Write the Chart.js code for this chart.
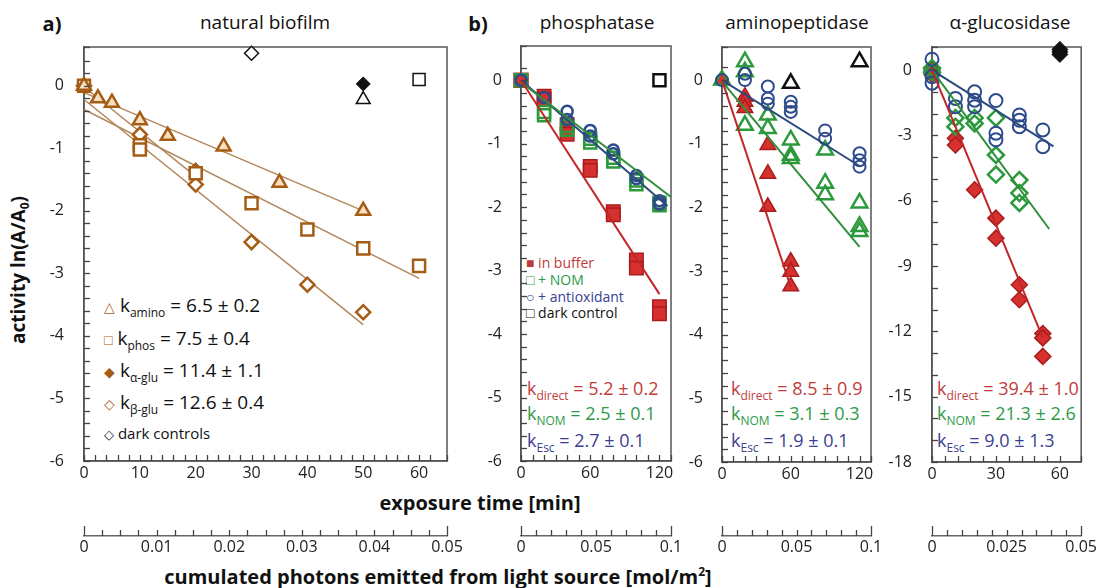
<!DOCTYPE html>
<html lang="en">
<head>
<meta charset="UTF-8">
<title>Photoinactivation of enzymes</title>
<script src="https://cdn.jsdelivr.net/npm/chart.js"></script>
<style>
  body { margin:0; width:1099px; height:588px; background:#fff; position:relative; overflow:hidden;
         font-family:"Open Sans", sans-serif; color:#111; }
  canvas { position:absolute; }
  .c { position:absolute; white-space:nowrap; transform:translate(-50%,-50%); line-height:1; }
  .l { position:absolute; white-space:nowrap; transform:translateY(-50%); line-height:1; }
  .b { font-weight:bold; }
  .k { font-size:18px; }
  .k sub { font-size:12px; vertical-align:-5px; line-height:0; }
  .lg { font-size:14px; }
  .red { color:#bf3b3b; } .grn { color:#2e9a48; } .blu { color:#3a3f8f; }
  .br { color:#a55d16; font-size:14px; }
</style>
</head>
<body>
<div class="c b" style="left:52px;top:24px;font-size:20px">a)</div>
<div class="c b" style="left:478px;top:24px;font-size:20px">b)</div>
<div class="c" style="left:265px;top:22px;font-size:19px">natural biofilm</div>
<div class="c" style="left:597px;top:22px;font-size:19px">phosphatase</div>
<div class="c" style="left:797px;top:22px;font-size:19px">aminopeptidase</div>
<div class="c" style="left:1010px;top:22px;font-size:19px">α-glucosidase</div>
<div class="c b" style="left:20px;top:270px;font-size:19px;transform:translate(-50%,-50%) rotate(-90deg)">activity ln(A/A<sub style="font-size:12px">0</sub>)</div>
<div class="c b" style="left:480px;top:503px;font-size:20px">exposure time [min]</div>
<div class="c b" style="left:438px;top:577px;font-size:20px">cumulated photons emitted from light source [mol/m<sup style="font-size:12px;line-height:0">2</sup>]</div>

<!-- legend a -->
<div class="l k" style="left:104px;top:305px;font-size:19px"><span class="br">△</span> k<sub>amino</sub> = 6.5 ± 0.2</div>
<div class="l k" style="left:104px;top:338px;font-size:19px"><span class="br">□</span> k<sub>phos</sub> = 7.5 ± 0.4</div>
<div class="l k" style="left:104px;top:370px;font-size:19px"><span class="br">◆</span> k<sub>α-glu</sub> = 11.4 ± 1.1</div>
<div class="l k" style="left:104px;top:402px;font-size:19px"><span class="br">◇</span> k<sub>β-glu</sub> = 12.6 ± 0.4</div>
<div class="l" style="left:104px;top:433px;font-size:15px"><span style="font-size:13px">◇</span> dark controls</div>

<!-- legend b -->
<div class="l lg red" style="left:526px;top:263px"><span style="font-size:14px">■</span> in buffer</div>
<div class="l lg grn" style="left:526px;top:280px"><span style="font-size:14px">□</span> + NOM</div>
<div class="l lg blu" style="left:526px;top:297px"><span style="font-size:14px">○</span> + antioxidant</div>
<div class="l lg" style="left:526px;top:313px"><span style="font-size:14px">□</span> dark control</div>

<div class="l k red" style="left:527px;top:388px">k<sub>direct</sub> = 5.2 ± 0.2</div>
<div class="l k grn" style="left:527px;top:413px">k<sub>NOM</sub> = 2.5 ± 0.1</div>
<div class="l k blu" style="left:527px;top:440px">k<sub>Esc</sub> = 2.7 ± 0.1</div>
<div class="l k red" style="left:731px;top:388px">k<sub>direct</sub> = 8.5 ± 0.9</div>
<div class="l k grn" style="left:731px;top:413px">k<sub>NOM</sub> = 3.1 ± 0.3</div>
<div class="l k blu" style="left:731px;top:440px">k<sub>Esc</sub> = 1.9 ± 0.1</div>
<div class="l k red" style="left:937px;top:388px">k<sub>direct</sub> = 39.4 ± 1.0</div>
<div class="l k grn" style="left:937px;top:413px">k<sub>NOM</sub> = 21.3 ± 2.6</div>
<div class="l k blu" style="left:937px;top:440px">k<sub>Esc</sub> = 9.0 ± 1.3</div>

<script>
// a) natural biofilm, exposure time [min] vs ln(A/A0)
const bioAminoT = [0, 2.5, 5, 10, 15, 25, 35, 50];
const bioAminoLn = [0, -0.2, -0.27, -0.55, -0.8, -0.97, -1.55, -2.0];
const bioPhosT = [0, 10, 10, 20, 30, 40, 50, 60];
const bioPhosLn = [0, -0.95, -1.02, -1.4, -1.88, -2.3, -2.6, -2.88];
const bioAgluT = [0, 10, 10, 20, 20];
const bioAgluLn = [0, -0.8, -0.97, -1.34, -1.45];
const bioBgluT = [0, 10, 20, 30, 40, 50];
const bioBgluLn = [0, -0.78, -1.58, -2.5, -3.18, -3.62];
const bioDarkAmino = [50, -0.22];
const bioDarkPhos = [60, 0.1];
const bioDarkAglu = [50, 0.03];
const bioDarkBglu = [30, 0.52];
const bioFitAminoT = [0, 50], bioFitAminoLn = [-0.11, -2.0];
const bioFitPhosT = [0, 60], bioFitPhosLn = [-0.38, -3.08];
const bioFitAgluT = [0, 20], bioFitAgluLn = [-0.02, -1.45];
const bioFitBgluT = [0, 50], bioFitBgluLn = [-0.22, -3.82];

// b) phosphatase
const phosBufT = [0, 0, 20, 20, 40, 40, 60, 60, 80, 80, 100, 100, 120, 120];
const phosBufLn = [0, 0, -0.25, -0.3, -0.7, -0.85, -1.36, -1.42, -2.07, -2.12, -2.83, -2.96, -3.57, -3.68];
const phosNomT = [0, 20, 20, 40, 40, 60, 60, 80, 80, 100, 100, 120, 120];
const phosNomLn = [0, -0.5, -0.55, -0.72, -0.78, -0.92, -0.98, -1.22, -1.28, -1.58, -1.64, -1.93, -1.97];
const phosAoxT = [0, 20, 40, 40, 60, 60, 80, 80, 100, 100, 120, 120];
const phosAoxLn = [0, -0.27, -0.49, -0.62, -0.79, -0.88, -1.1, -1.16, -1.5, -1.55, -1.9, -1.95];
const phosDark = [120, 0];
const phosFitBufT = [0, 120], phosFitBufLn = [0, -3.37];
const phosFitNomT = [0, 130], phosFitNomLn = [-0.03, -1.84];
const phosFitAoxT = [0, 127], phosFitAoxLn = [0, -1.98];

// b) aminopeptidase
const amiBufT = [0, 20, 20, 20, 40, 40, 40, 60, 60, 60];
const amiBufLn = [0, -0.26, -0.34, -0.44, -1.02, -1.47, -1.99, -2.85, -3.01, -3.24];
const amiNomT = [0, 20, 20, 20, 40, 40, 60, 60, 60, 90, 90, 90, 120, 120, 120];
const amiNomLn = [0, 0.29, 0.13, -0.71, -0.55, -0.76, -0.94, -1.18, -1.23, -1.1, -1.62, -1.8, -1.93, -2.3, -2.38];
const amiAoxT = [0, 20, 20, 40, 40, 40, 60, 60, 60, 90, 90, 120, 120, 120];
const amiAoxLn = [0, 0.1, 0, -0.1, -0.29, -0.37, -0.34, -0.42, -0.5, -0.79, -0.92, -1.15, -1.26, -1.36];
const amiDarkT = [60, 120], amiDarkLn = [-0.05, 0.29];
const amiFitBufT = [0, 60], amiFitBufLn = [0, -3.25];
const amiFitNomT = [0, 120], amiFitNomLn = [-0.02, -2.62];
const amiFitAoxT = [0, 120], amiFitAoxLn = [0, -1.35];

// b) alpha-glucosidase
const gluBufT = [0, 0, 11, 11, 20, 30, 30, 41, 41, 52, 52, 52];
const gluBufLn = [0, -0.2, -3.13, -3.44, -5.5, -6.8, -7.72, -9.86, -10.55, -12.1, -12.3, -13.15];
const gluNomT = [0, 0, 11, 11, 20, 20, 30, 30, 30, 41, 41, 41];
const gluNomLn = [0.1, -0.1, -2.2, -2.6, -2.2, -2.45, -2.2, -3.9, -4.8, -5.05, -5.65, -6.1];
const gluAoxT = [0, 0, 0, 11, 11, 20, 20, 20, 30, 30, 30, 41, 41, 41, 52, 52];
const gluAoxLn = [0.5, -0.3, -0.6, -1.3, -1.68, -1.0, -1.38, -1.68, -1.4, -2.9, -3.2, -2.06, -2.3, -2.6, -2.75, -3.52];
const gluDarkT = [60, 60, 60], gluDarkLn = [0.72, 0.84, 0.95];
const gluFitBufT = [0, 52], gluFitBufLn = [0, -12.3];
const gluFitNomT = [0, 55], gluFitNomLn = [0, -7.3];
const gluFitAoxT = [0, 57], gluFitAoxLn = [0, -3.5];

const FONT = '"Open Sans", sans-serif';
const TICK_SIZE = 16;
const BROWN = '#a55d16', TAN = '#f6dfc2', BROWNLINE = '#b3875a';
const RED = '#d6302f', REDD = '#a91c1c', GRN = '#2c9a3c', BLU = '#2d4a8c';
const AXIS_Y2 = 536;   // secondary (photon) axis line

const pts = (xs, ys) => xs.map((x, i) => ({ x: x, y: ys[i] }));
const isMajor = (v, step) => Math.abs(v / step - Math.round(v / step)) < 1e-6;

function marks(xs, ys, style, r, bg, bc, bw) {
  return { data: pts(xs, ys), showLine: false, pointStyle: style, pointRadius: r,
           backgroundColor: bg, borderColor: bc, pointBorderWidth: bw, clip: false };
}
function fit(xs, ys, color, w) {
  return { data: pts(xs, ys), showLine: true, pointRadius: 0, borderColor: color,
           borderWidth: w, clip: false };
}

// box round the plot area
const frame = {
  id: 'frame',
  beforeDatasetsDraw(c) {
    const a = c.chartArea, ctx = c.ctx;
    ctx.save();
    ctx.strokeStyle = '#555';
    ctx.lineWidth = 1.5;
    ctx.strokeRect(a.left, a.top, a.right - a.left, a.bottom - a.top);
    ctx.restore();
  }
};

// tick marks pointing inwards (and upwards on the photon axis)
const innerTicks = {
  id: 'innerTicks',
  afterDraw(c) {
    const ctx = c.ctx;
    ctx.save();
    ctx.strokeStyle = '#444';
    ctx.lineWidth = 1.3;
    ['x', 'x2', 'y'].forEach(id => {
      const s = c.scales[id];
      const n = s.ticks.length;
      s.ticks.forEach((t, i) => {
        const p = Math.round(s.getPixelForValue(t.value)) + 0.5;
        ctx.beginPath();
        if (id === 'y') {
          ctx.moveTo(s.right, p); ctx.lineTo(s.right + 6, p);
        } else {
          let len = 6;
          if (id === 'x2') len = (i === 0 || i === n - 1) ? 10 : 6;
          ctx.moveTo(p, s.top); ctx.lineTo(p, s.top - len);
        }
        ctx.stroke();
      });
    });
    ctx.restore();
  }
};

function panel(box, xr, yr, x2r, datasets, padR) {
  // the y axis keeps half a label line plus its tick padding free above the top tick,
  // so the canvas starts that far above the plot box
  const padT = Math.ceil(TICK_SIZE * 0.6 + yr.pad) + 2;
  const yW = 50;
  const cv = document.createElement('canvas');
  cv.width = yW + (box.right - box.left) + padR;
  cv.height = (box.bottom - box.top + padT) + (AXIS_Y2 - box.bottom) + 30;
  cv.style.left = (box.left - yW) + 'px';
  cv.style.top = (box.top - padT) + 'px';
  document.body.appendChild(cv);
  const tickFont = { family: FONT, size: TICK_SIZE };
  const noGrid = { drawOnChartArea: false, drawTicks: false };
  new Chart(cv, {
    type: 'scatter',
    data: { datasets: datasets },
    options: {
      responsive: false,
      animation: false,
      layout: { padding: { left: 0, top: padT, right: padR, bottom: 0 } },
      plugins: { legend: { display: false }, tooltip: { enabled: false } },
      scales: {
        x: {
          type: 'linear', position: 'bottom', weight: 0, min: 0, max: xr.max,
          afterFit: s => { s.height = AXIS_Y2 - box.bottom; },
          ticks: { stepSize: xr.step, autoSkip: false, maxRotation: 0, padding: 3, color: '#222', font: tickFont,
                   callback: v => isMajor(v, xr.major) ? String(Math.round(v)) : '' },
          grid: noGrid,
          border: { color: '#555', width: 1.5 }
        },
        x2: {
          type: 'linear', position: 'bottom', weight: 1, min: 0, max: x2r.max,
          afterFit: s => { s.height = 30; },
          ticks: { stepSize: x2r.step, autoSkip: false, maxRotation: 0, padding: 2, color: '#222', font: tickFont,
                   callback: v => isMajor(v, x2r.major) ? String(+v.toFixed(4)) : '' },
          grid: noGrid,
          border: { color: '#666', width: 1.5 }
        },
        y: {
          type: 'linear', min: yr.min, max: yr.max,
          afterFit: s => { s.width = yW; },
          ticks: { stepSize: yr.step, autoSkip: false, padding: yr.pad, color: '#222', font: tickFont,
                   callback: v => isMajor(v, yr.major) ? String(Math.round(v)) : '' },
          grid: noGrid,
          border: { color: '#555', width: 1.5 }
        }
      }
    },
    plugins: [frame, innerTicks]
  });
}

// a) natural biofilm
panel({ left: 84, right: 447, top: 47, bottom: 461 },
  { max: 65, step: 2, major: 10 }, { min: -6, max: 0.62, step: 0.2, major: 1, pad: 20 },
  { max: 0.05, step: 0.0025, major: 0.01 }, [
    marks(bioAminoT, bioAminoLn, 'triangle', 8, TAN, BROWN, 2.5),
    marks(bioPhosT, bioPhosLn, 'rect', 8.5, '#fff', BROWN, 2.5),
    marks(bioBgluT, bioBgluLn, 'rectRot', 7, '#fff', BROWN, 2.5),
    marks(bioAgluT, bioAgluLn, 'rectRot', 7, BROWN, BROWN, 1),
    marks([bioDarkAmino[0]], [bioDarkAmino[1]], 'triangle', 8, '#fff', '#111', 1.5),
    marks([bioDarkPhos[0]], [bioDarkPhos[1]], 'rect', 8.5, '#fff', '#111', 1.5),
    marks([bioDarkAglu[0]], [bioDarkAglu[1]], 'rectRot', 7, '#111', '#111', 1),
    marks([bioDarkBglu[0]], [bioDarkBglu[1]], 'rectRot', 7, '#fff', '#111', 1.5),
    fit(bioFitAminoT, bioFitAminoLn, BROWNLINE, 1.5),
    fit(bioFitPhosT, bioFitPhosLn, BROWNLINE, 1.5),
    fit(bioFitAgluT, bioFitAgluLn, BROWNLINE, 1.5),
    fit(bioFitBgluT, bioFitBgluLn, BROWNLINE, 1.5)
  ], 25);

// b) phosphatase
panel({ left: 521, right: 671, top: 46, bottom: 461 },
  { max: 130, step: 10, major: 60 }, { min: -6, max: 0.54, step: 0.2, major: 1, pad: 19 },
  { max: 0.1, step: 0.01, major: 0.05 }, [
    fit(phosFitBufT, phosFitBufLn, '#c0262a', 2),
    fit(phosFitNomT, phosFitNomLn, '#2f8f3a', 2),
    fit(phosFitAoxT, phosFitAoxLn, '#2b4a7e', 2),
    marks(phosAoxT, phosAoxLn, 'circle', 5.5, 'rgba(255,255,255,0)', BLU, 2.5),
    marks(phosNomT, phosNomLn, 'rect', 8.5, 'rgba(255,255,255,0)', GRN, 2.5),
    marks(phosBufT, phosBufLn, 'rect', 9.5, RED, REDD, 1.5),
    marks([phosDark[0]], [phosDark[1]], 'rect', 8.5, '#fff', '#111', 2.5)
  ], 25);

// b) aminopeptidase
panel({ left: 722, right: 871, top: 47, bottom: 462 },
  { max: 130, step: 10, major: 60 }, { min: -6, max: 0.52, step: 0.2, major: 1, pad: 19 },
  { max: 0.1, step: 0.01, major: 0.05 }, [
    fit(amiFitBufT, amiFitBufLn, '#c0262a', 2),
    fit(amiFitNomT, amiFitNomLn, '#2f8f3a', 2),
    fit(amiFitAoxT, amiFitAoxLn, '#2b4a7e', 2),
    marks(amiAoxT, amiAoxLn, 'circle', 6, 'rgba(255,255,255,0)', BLU, 2),
    marks(amiNomT, amiNomLn, 'triangle', 9, 'rgba(255,255,255,0)', GRN, 2.5),
    marks(amiBufT, amiBufLn, 'triangle', 9, RED, REDD, 1.5),
    marks(amiDarkT, amiDarkLn, 'triangle', 9, '#fff', '#111', 2.5)
  ], 25);

// b) alpha-glucosidase
panel({ left: 932, right: 1083, top: 47, bottom: 462 },
  { max: 70, step: 6, major: 30 }, { min: -18, max: 1.06, step: 1, major: 3, pad: 20 },
  { max: 0.05, step: 0.005, major: 0.025 }, [
    fit(gluFitBufT, gluFitBufLn, '#c0262a', 2),
    fit(gluFitNomT, gluFitNomLn, '#2f8f3a', 2),
    fit(gluFitAoxT, gluFitAoxLn, '#2b4a7e', 2),
    marks(gluAoxT, gluAoxLn, 'circle', 6.5, 'rgba(255,255,255,0)', BLU, 2),
    marks(gluNomT, gluNomLn, 'rectRot', 8, 'rgba(255,255,255,0)', GRN, 2.5),
    marks(gluBufT, gluBufLn, 'rectRot', 8, RED, REDD, 1.5),
    marks(gluDarkT, gluDarkLn, 'rectRot', 8, '#111', '#111', 1)
  ], 16);
</script>
</body>
</html>
